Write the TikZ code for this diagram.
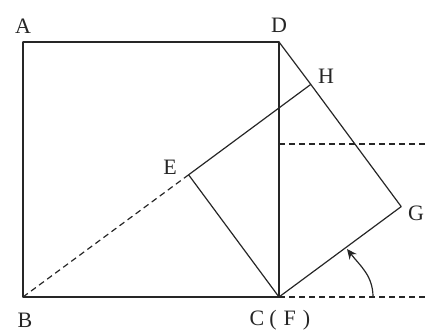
\documentclass[tikz,border=0pt]{standalone}
\usepackage{fontspec}
\setmainfont{Liberation Serif}
\usetikzlibrary{arrows.meta}
\newcommand{\lblfont}{\fontsize{22}{26}\selectfont}
\begin{document}
\begin{tikzpicture}[x=1pt,y=-1pt,
  edge/.style={line width=1.2pt, line cap=round, line join=round, draw=black!85},
  dashline/.style={line width=1.2pt, draw=black!85, dash pattern=on 6pt off 4pt},
  lbl/.style={inner sep=0pt, text=black!85}]
\useasboundingbox (0,0) rectangle (425,332);
% points
\coordinate (A) at (23,42);
\coordinate (B) at (23,297);
\coordinate (C) at (279,297);
\coordinate (D) at (279,42);
\coordinate (E) at (188.6,174.8);
\coordinate (G) at (401.2,206.6);
\coordinate (H) at (310.8,84.4);
\coordinate (M) at (279,144);
\coordinate (R1) at (425,144);
\coordinate (R2) at (425,297);
\coordinate (S) at (373,297);
\coordinate (T) at (347,249);
% square ABCD
\draw[edge] (A) -- (D) -- (C) -- (B) -- (A);
% square EFGH
\draw[edge] (D) -- (H) -- (G) -- (C) -- (E) -- (H);
% dashed lines
\draw[dashline] (B) -- (E);
\draw[dashline] (M) -- (R1);
\draw[dashline] (C) -- (R2);
% rotation arrow
\draw[line width=1.2pt, draw=black!85, -{Stealth[length=10pt,width=9pt]}] (S) to[out=90,in=-52] (T);
% labels
\node[lbl] (lA) at (23,26) {\lblfont A};
\node[lbl] (lD) at (279,25) {\lblfont D};
\node[lbl] (lH) at (326,76) {\lblfont H};
\node[lbl] (lE) at (170,167) {\lblfont E};
\node[lbl] (lG) at (416,213) {\lblfont G};
\node[lbl] (lB) at (25,320) {\lblfont B};
\node[lbl] (lC) at (280,320) {\lblfont C\kern5pt(\kern7pt F\kern7pt)};
\end{tikzpicture}
\end{document}
